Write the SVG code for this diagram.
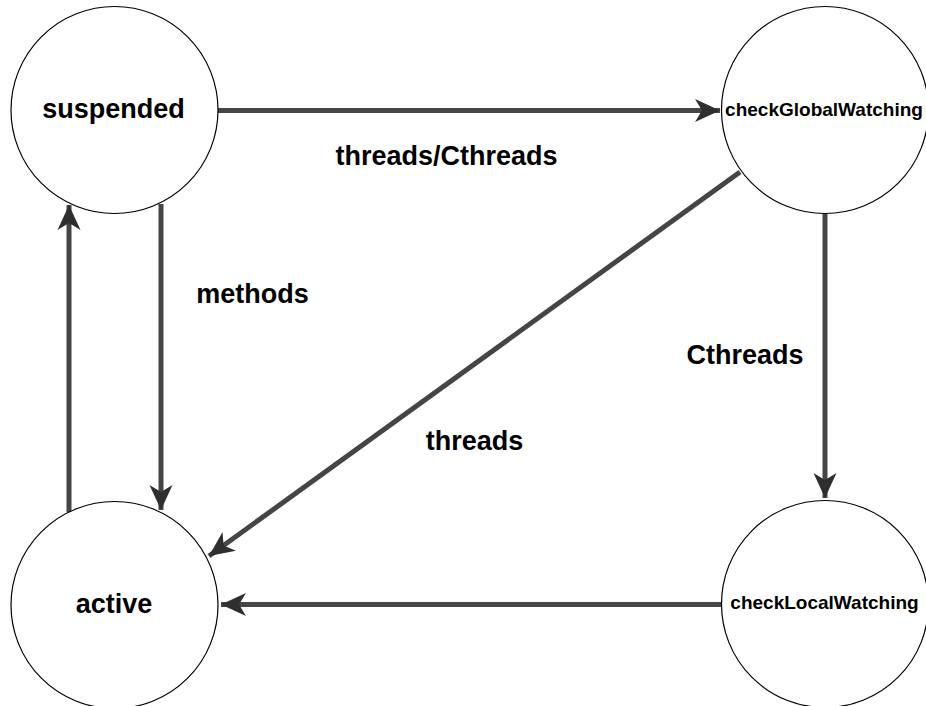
<svg xmlns="http://www.w3.org/2000/svg" width="926" height="706" viewBox="0 0 926 706">
  <style>
    .state { fill: #ffffff; stroke: #000000; stroke-width: 1.2; }
    .big { font-family: "Liberation Sans", Arial, sans-serif; font-weight: bold; font-size: 27px; fill: #000000; text-anchor: middle; }
    .small { font-family: "Liberation Sans", Arial, sans-serif; font-weight: bold; font-size: 19px; fill: #000000; text-anchor: middle; }
    .edge { fill: none; stroke: #454545; stroke-width: 5; }
  </style>
  <defs>
    <marker id="arrow" viewBox="-26 -12 28 24" refX="0" refY="0" markerUnits="userSpaceOnUse" markerWidth="28" markerHeight="24" orient="auto">
      <path d="M0,0 L-25,-11.5 L-18,0 L-25,11.5 Z" fill="#2f2f2f"/>
    </marker>
  </defs>

  <rect width="926" height="706" fill="#ffffff"/>

  <!-- transitions -->
  <g id="connectors">
    <line class="edge" x1="218" y1="110.5" x2="720" y2="110.5" marker-end="url(#arrow)"/>
    <line class="edge" x1="740" y1="172" x2="209" y2="556" marker-end="url(#arrow)"/>
    <line class="edge" x1="825" y1="213" x2="825" y2="498" marker-end="url(#arrow)"/>
    <line class="edge" x1="722" y1="604.5" x2="221" y2="604.5" marker-end="url(#arrow)"/>
    <line class="edge" x1="161" y1="204" x2="161" y2="510" marker-end="url(#arrow)"/>
    <line class="edge" x1="69" y1="512" x2="69" y2="205" marker-end="url(#arrow)"/>
  </g>

  <!-- transition labels -->
  <g id="labels">
    <text class="big" x="446.5" y="165">threads/Cthreads</text>
    <text class="big" x="252.5" y="303">methods</text>
    <text class="big" x="745" y="364">Cthreads</text>
    <text class="big" x="474.5" y="450">threads</text>
  </g>

  <!-- states -->
  <g id="suspended">
    <circle class="state" cx="114.5" cy="110" r="103.5"/>
    <text class="big" x="113.5" y="118">suspended</text>
  </g>
  <g id="checkGlobalWatching">
    <circle class="state" cx="825" cy="110" r="103.5"/>
    <text class="small" x="824" y="116">checkGlobalWatching</text>
  </g>
  <g id="active">
    <circle class="state" cx="114.5" cy="605" r="103.5"/>
    <text class="big" x="114" y="613">active</text>
  </g>
  <g id="checkLocalWatching">
    <circle class="state" cx="825" cy="604" r="103.5"/>
    <text class="small" x="824.5" y="609">checkLocalWatching</text>
  </g>
</svg>
